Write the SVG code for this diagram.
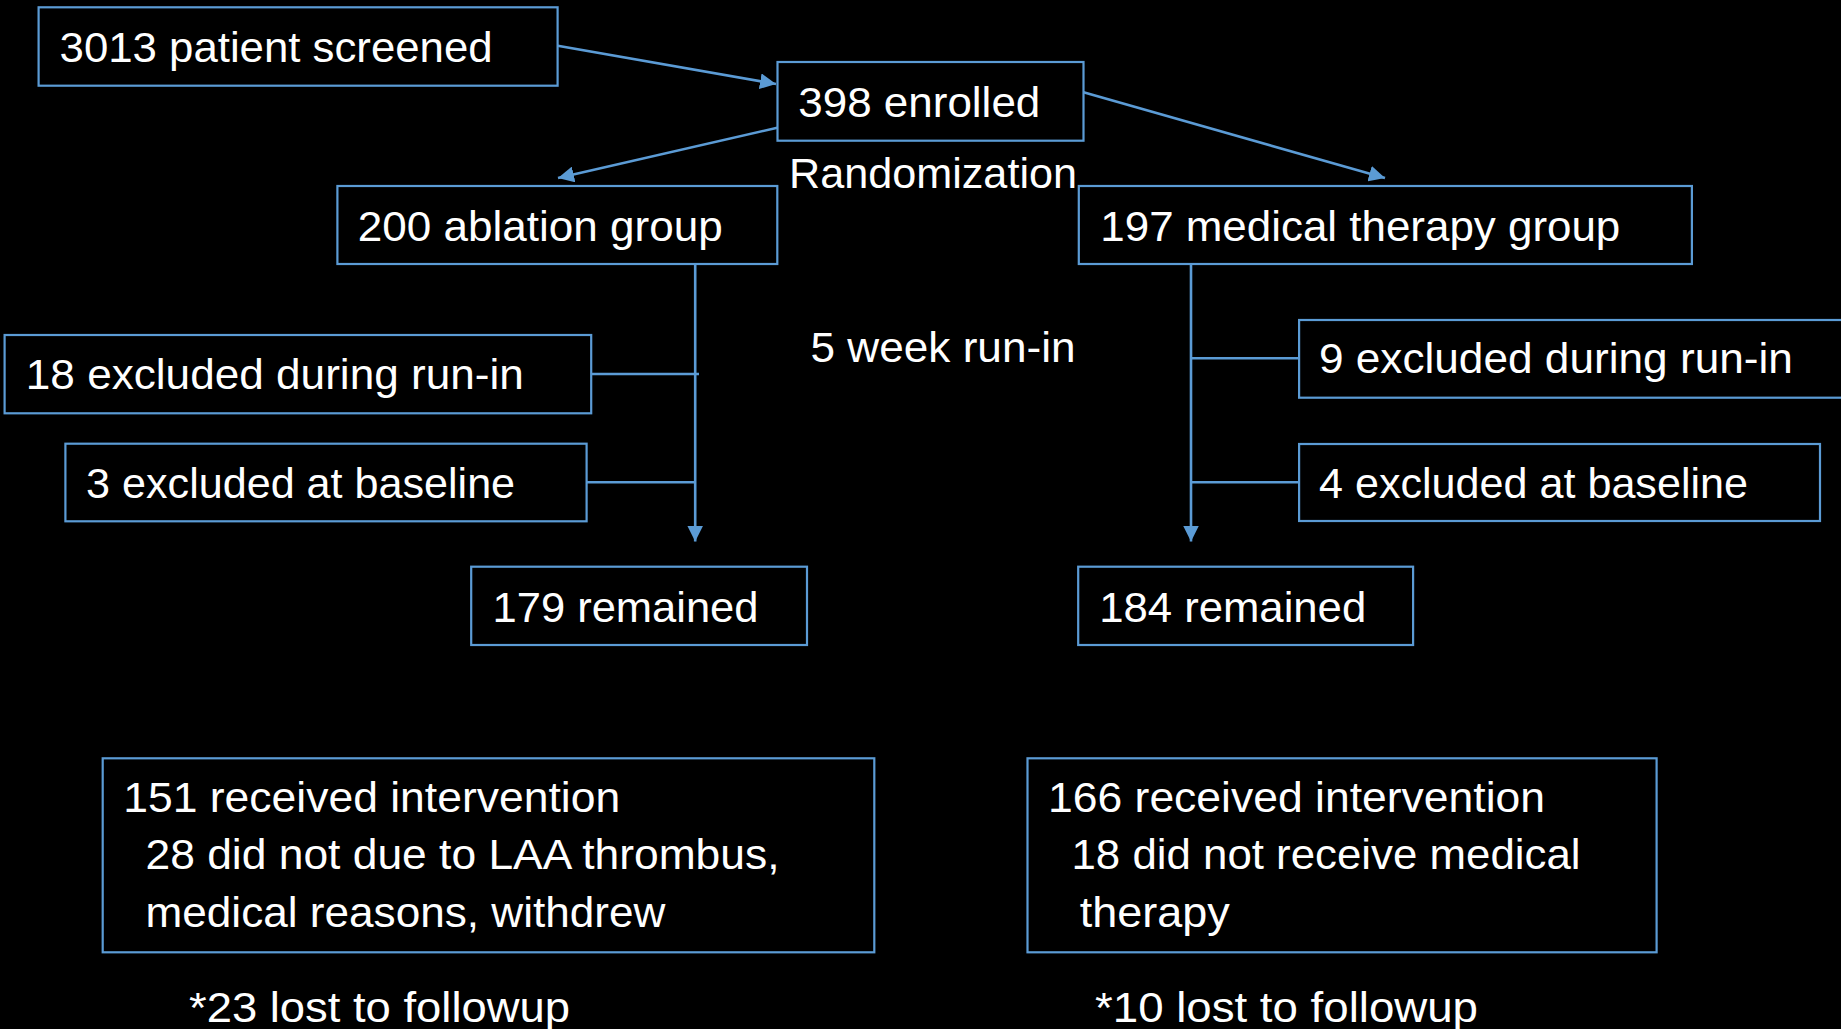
<svg xmlns="http://www.w3.org/2000/svg" width="1841" height="1029" viewBox="0 0 1841 1029">
<defs>
<style>
.box{fill:#000;stroke:#5B9BD5;stroke-width:2.2}
.t{fill:#fff;font-family:"Liberation Sans",Arial,sans-serif;font-size:43px}
.c{fill:none;stroke:#5B9BD5;stroke-width:2.6}
</style>
<marker id="ah" markerUnits="userSpaceOnUse" markerWidth="16" markerHeight="16" viewBox="0 0 16 16" refX="16" refY="8" orient="auto">
<path d="M0,0 L16,8 L0,16 Z" fill="#5B9BD5"/>
</marker>
</defs>
<rect width="1841" height="1029" fill="#000"/>

<g id="connectors">
<line class="c" x1="557.7" y1="45.7" x2="776" y2="84" marker-end="url(#ah)"/>
<line class="c" x1="777.3" y1="127.7" x2="558" y2="178" marker-end="url(#ah)"/>
<line class="c" x1="1083.5" y1="92.3" x2="1385" y2="178" marker-end="url(#ah)"/>
<line class="c" x1="695.2" y1="264" x2="695.2" y2="541.5" marker-end="url(#ah)"/>
<line class="c" x1="591.2" y1="374" x2="699" y2="374"/>
<line class="c" x1="586.6" y1="482.3" x2="695.2" y2="482.3"/>
<line class="c" x1="1191" y1="264" x2="1191" y2="541.5" marker-end="url(#ah)"/>
<line class="c" x1="1191" y1="358.3" x2="1299" y2="358.3"/>
<line class="c" x1="1191" y1="482.3" x2="1299" y2="482.3"/>
</g>

<g id="screened">
<rect class="box" x="38.6" y="7.3" width="519" height="78.4"/>
<text class="t" x="59.6" y="61.7" textLength="433" lengthAdjust="spacingAndGlyphs">3013 patient screened</text>
</g>
<g id="enrolled">
<rect class="box" x="777.5" y="62" width="306" height="78.7"/>
<text class="t" x="798.3" y="116.7" textLength="242" lengthAdjust="spacingAndGlyphs">398 enrolled</text>
</g>
<g id="randomization">
<text class="t" x="789" y="188.3" textLength="288" lengthAdjust="spacingAndGlyphs">Randomization</text>
</g>
<g id="ablation">
<rect class="box" x="337.4" y="186" width="439.9" height="78"/>
<text class="t" x="357.8" y="240.7" textLength="365" lengthAdjust="spacingAndGlyphs">200 ablation group</text>
</g>
<g id="medical">
<rect class="box" x="1078.8" y="186" width="613.1" height="78"/>
<text class="t" x="1100.3" y="240.7" textLength="520" lengthAdjust="spacingAndGlyphs">197 medical therapy group</text>
</g>
<g id="runin">
<text class="t" x="810.5" y="361.7" textLength="265" lengthAdjust="spacingAndGlyphs">5 week run-in</text>
</g>
<g id="excl-runin-left">
<rect class="box" x="4.6" y="335" width="586.6" height="78.3"/>
<text class="t" x="25.8" y="389.3" textLength="498" lengthAdjust="spacingAndGlyphs">18 excluded during run-in</text>
</g>
<g id="excl-base-left">
<rect class="box" x="65.4" y="443.7" width="521.2" height="77.6"/>
<text class="t" x="86.1" y="497.7" textLength="429" lengthAdjust="spacingAndGlyphs">3 excluded at baseline</text>
</g>
<g id="excl-runin-right">
<rect class="box" x="1299.1" y="320" width="560" height="77.7"/>
<text class="t" x="1318.9" y="373.3" textLength="474" lengthAdjust="spacingAndGlyphs">9 excluded during run-in</text>
</g>
<g id="excl-base-right">
<rect class="box" x="1299.1" y="444" width="520.9" height="77"/>
<text class="t" x="1319" y="497.7" textLength="429" lengthAdjust="spacingAndGlyphs">4 excluded at baseline</text>
</g>
<g id="remained-left">
<rect class="box" x="471.2" y="566.7" width="335.8" height="78.3"/>
<text class="t" x="492.5" y="621.7" textLength="266" lengthAdjust="spacingAndGlyphs">179 remained</text>
</g>
<g id="remained-right">
<rect class="box" x="1078.2" y="566.7" width="334.9" height="78.3"/>
<text class="t" x="1099.2" y="621.7" textLength="267" lengthAdjust="spacingAndGlyphs">184 remained</text>
</g>
<g id="intervention-left">
<rect class="box" x="102.7" y="758.3" width="771.6" height="194"/>
<text class="t" x="123.2" y="812.3" textLength="497" lengthAdjust="spacingAndGlyphs">151 received intervention</text>
<text class="t" x="145.5" y="869.3" textLength="634" lengthAdjust="spacingAndGlyphs">28 did not due to LAA thrombus,</text>
<text class="t" x="145.5" y="926.7" textLength="520" lengthAdjust="spacingAndGlyphs">medical reasons, withdrew</text>
</g>
<g id="intervention-right">
<rect class="box" x="1027.5" y="758.3" width="629.1" height="194"/>
<text class="t" x="1048" y="812.3" textLength="497" lengthAdjust="spacingAndGlyphs">166 received intervention</text>
<text class="t" x="1071.5" y="869.3" textLength="509" lengthAdjust="spacingAndGlyphs">18 did not receive medical</text>
<text class="t" x="1079.8" y="926.7" textLength="150" lengthAdjust="spacingAndGlyphs">therapy</text>
</g>
<g id="lost-left">
<text class="t" x="189" y="1021.7" textLength="381" lengthAdjust="spacingAndGlyphs">*23 lost to followup</text>
</g>
<g id="lost-right">
<text class="t" x="1095" y="1021.7" textLength="383" lengthAdjust="spacingAndGlyphs">*10 lost to followup</text>
</g>
</svg>
